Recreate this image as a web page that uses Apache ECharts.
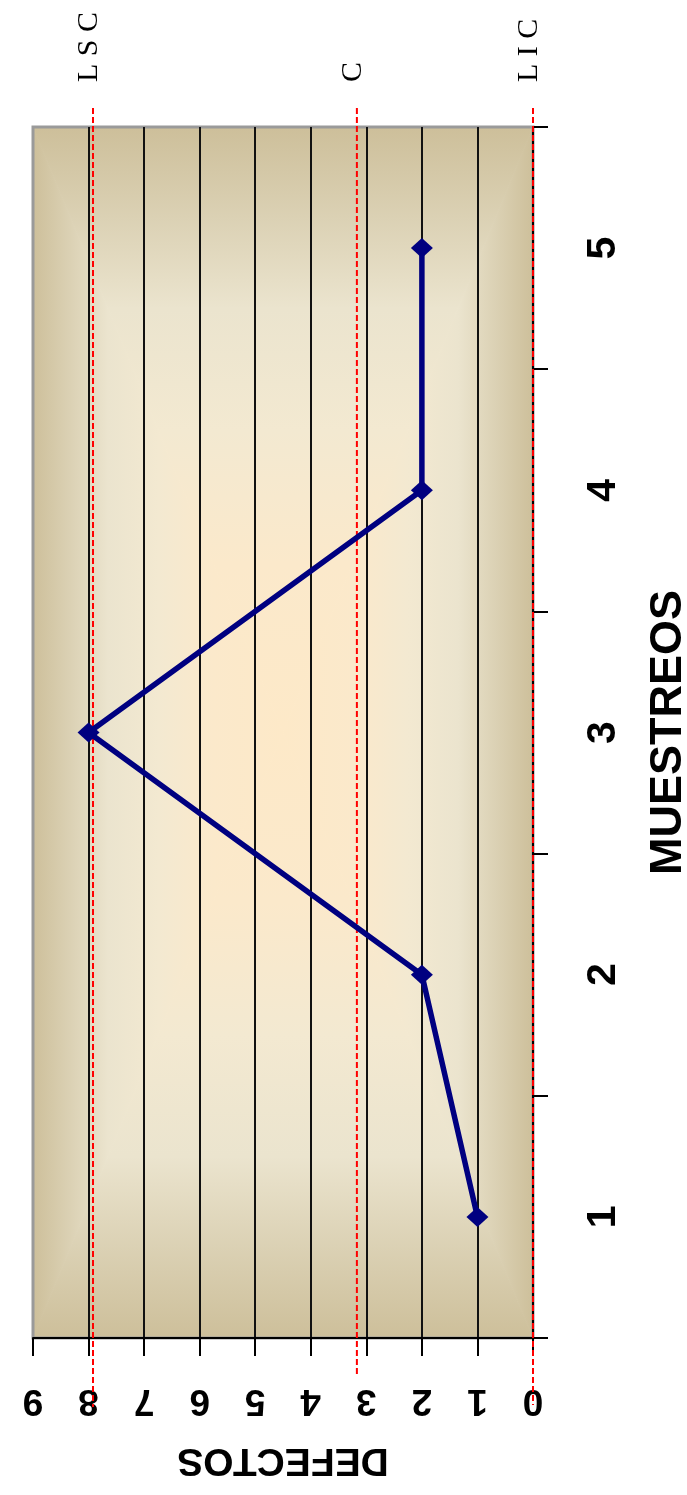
<!DOCTYPE html>
<html>
<head>
<meta charset="utf-8">
<script src="https://cdn.jsdelivr.net/npm/echarts@6/dist/echarts.min.js"></script>
<style>
html,body{margin:0;padding:0;background:#fff;}
#c{width:687px;height:1495px;}
</style>
</head>
<body>
<div id="c"></div>
<script>
// ---- data ----
const muestreos = ['1', '2', '3', '4', '5'];
const defectos = [1, 2, 8, 2, 2];
const defectTickLabels = ['0', '1', '2', '3', '4', '5', '6', '7', '8', '9'];
const controlNames = ['L S C', 'C', 'L I C'];
const controlValues = [7.92, 3.17, 0];

// ---- style constants ----
const controlTail = [69, 39, 67];
const bgStops = [
  { offset: 0, color: '#cdbf9a' },
  { offset: 0.15, color: '#dbd1b4' },
  { offset: 0.3, color: '#ebe4ce' },
  { offset: 0.5, color: '#f3e9d1' },
  { offset: 0.72, color: '#fbe9cb' },
  { offset: 1, color: '#fde9c8' }
];

const chart = echarts.init(document.getElementById('c'), null, { renderer: 'canvas' });

function bgRender(params, api) {
  const cs = params.coordSys;
  const x = cs.x, y = cs.y, w = cs.width, h = cs.height;
  const cx = x + w / 2, cy = y + h / 2;
  const g = (a, b, c, d) => new echarts.graphic.LinearGradient(a, b, c, d, bgStops);
  const tri = (pts, grad) => ({ type: 'polygon', shape: { points: pts }, style: { fill: grad, stroke: grad, lineWidth: 1 } });
  return {
    type: 'group',
    children: [
      tri([[x, y], [x + w, y], [cx, cy]], g(0, 0, 0, 1)),
      tri([[x, y + h], [x + w, y + h], [cx, cy]], g(0, 1, 0, 0)),
      tri([[x, y], [x, y + h], [cx, cy]], g(0, 0, 1, 0)),
      tri([[x + w, y], [x + w, y + h], [cx, cy]], g(1, 0, 0, 0))
    ]
  };
}

function controlRender(params, api) {
  const cs = params.coordSys;
  const i = api.value(2);
  const px = api.coord([api.value(0), 0])[0];
  return {
    type: 'group',
    children: [
      {
        type: 'line',
        shape: { x1: px, y1: cs.y - 19, x2: px, y2: cs.y + cs.height + controlTail[i] },
        style: { stroke: '#ff0000', lineWidth: 2, lineDash: [6, 3] }
      },
      {
        type: 'text',
        x: px - 4,
        y: cs.y - 45,
        rotation: Math.PI / 2,
        style: {
          text: controlNames[i],
          font: '30px "Liberation Serif", serif',
          fill: '#000',
          align: 'left',
          verticalAlign: 'middle'
        }
      }
    ]
  };
}

const option = {
  animation: false,
  backgroundColor: '#ffffff',
  grid: {
    left: 33, right: 154, top: 127, bottom: 157,
    show: true, borderColor: '#9a9a9a', borderWidth: 3, backgroundColor: 'transparent',
    containLabel: false, outerBoundsMode: 'none'
  },
  xAxis: {
    type: 'value', min: 0, max: 9, interval: 1, inverse: true, position: 'bottom',
    axisLine: { show: true, onZero: false, lineStyle: { color: '#000', width: 2 } },
    axisTick: { show: true, length: 18, lineStyle: { color: '#000', width: 2 } },
    axisLabel: {
      rotate: 180, margin: 44, fontSize: 37, fontWeight: 'bold', color: '#000',
      fontFamily: 'Liberation Sans, Arial, sans-serif', showMinLabel: true, showMaxLabel: true,
      formatter: v => defectTickLabels[Math.round(v)]
    },
    splitLine: { show: true, showMinLine: false, showMaxLine: false, lineStyle: { color: '#111', width: 2 } },
    name: 'DEFECTOS', nameLocation: 'middle', nameRotate: 180, nameGap: 102,
    nameTextStyle: { fontSize: 39, fontWeight: 'bold', color: '#000', fontFamily: 'Liberation Sans, Arial, sans-serif' }
  },
  yAxis: {
    type: 'category', data: muestreos, position: 'right', boundaryGap: true,
    axisLine: { show: true, onZero: false, lineStyle: { color: '#000', width: 2 } },
    axisTick: { show: true, length: 15, lineStyle: { color: '#000', width: 2 } },
    axisLabel: {
      rotate: 90, margin: 50, fontSize: 41, fontWeight: 'bold', color: '#000',
      fontFamily: 'Liberation Sans, Arial, sans-serif'
    },
    splitLine: { show: false },
    name: 'MUESTREOS', nameLocation: 'middle', nameRotate: 90, nameGap: 113,
    nameTextStyle: { fontSize: 45, fontWeight: 'bold', color: '#000', fontFamily: 'Liberation Sans, Arial, sans-serif' }
  },
  series: [
    {
      type: 'custom', z: -1, silent: true,
      data: [[0, 0]],
      renderItem: bgRender
    },
    {
      type: 'custom', z: 3, silent: true,
      data: controlValues.map((v, i) => [v, 0, i]),
      renderItem: controlRender
    },
    {
      type: 'line', z: 5,
      data: muestreos.map((m, i) => [defectos[i], m]),
      symbol: 'diamond', symbolSize: [22, 20], showSymbol: true,
      lineStyle: { color: '#000080', width: 5.5 },
      itemStyle: { color: '#000080' }
    }
  ]
};
chart.setOption(option);
</script>
</body>
</html>
